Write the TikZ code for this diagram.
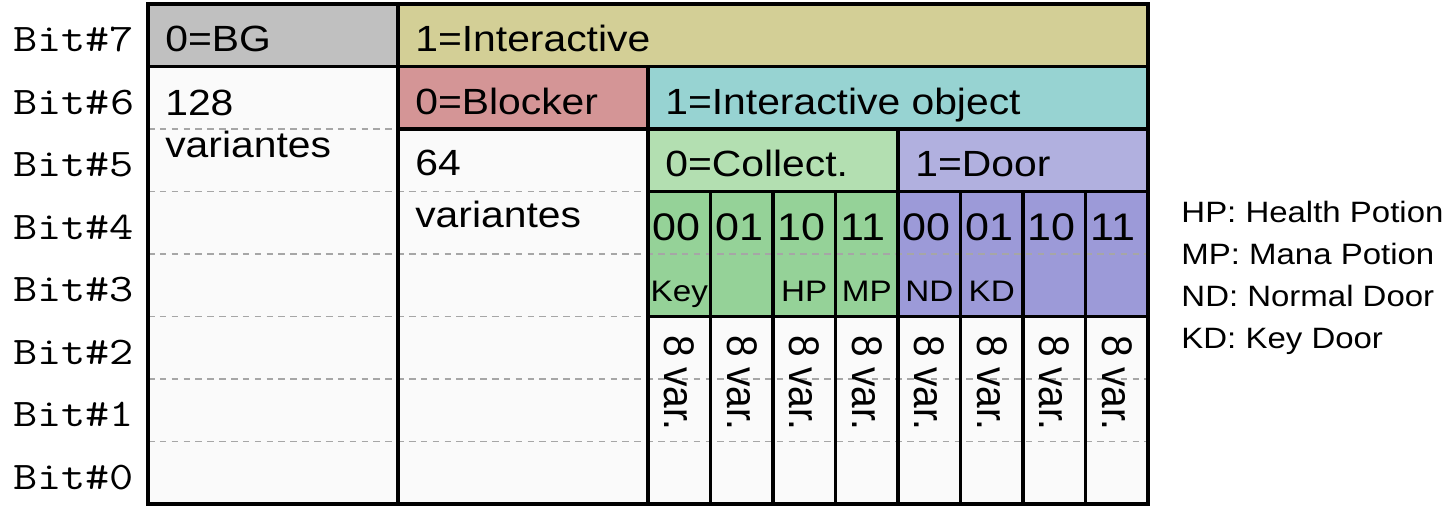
\documentclass[tikz,border=0pt]{standalone}
\usepackage{fontspec}
\usepackage{graphicx}
\setmainfont{Liberation Sans}[FakeStretch=1.12]
\newfontfamily\monof{Latin Modern Mono}[FakeStretch=1.2]
\newfontfamily\plainsans{Liberation Sans}
\definecolor{cwhite}{HTML}{FAFAFA}
\definecolor{cbg}{HTML}{C0C0C0}
\definecolor{cint}{HTML}{D3CF96}
\definecolor{cblock}{HTML}{D49596}
\definecolor{cobj}{HTML}{97D3D2}
\definecolor{ccoll}{HTML}{B3DFB1}
\definecolor{cdoor}{HTML}{B1B0DF}
\definecolor{cgreen}{HTML}{95D298}
\definecolor{cpurple}{HTML}{9C9AD8}
\begin{document}
\begin{tikzpicture}[x=1cm,y=1cm,
  cellbox/.style={line width=1.8pt, draw=black},
  rowline/.style={draw=gray!70, line width=0.75pt, dash pattern=on 3pt off 2.4pt},
  bitlabel/.style={anchor=base east, inner sep=0pt, font=\monof\fontsize{17.8}{20}\selectfont},
  head/.style={anchor=base west, inner sep=0pt, font=\fontsize{16.6}{20}\selectfont},
  code/.style={anchor=base west, inner sep=0pt, font=\fontsize{17.5}{20}\selectfont},
  tag/.style={anchor=base, inner sep=0pt, font=\fontsize{13.5}{16}\selectfont},
  legend/.style={anchor=base west, inner sep=0pt, font=\fontsize{13.4}{16}\selectfont},
  varlabel/.style={rotate=-90, anchor=west, inner sep=0pt, font=\plainsans\fontsize{17.7}{20}\selectfont},
]
\useasboundingbox (0,0) rectangle (23.248,8.16);
\begin{scope}[shift={(2.368,0.096)}]
% fills
\fill[cwhite] (0,0) rectangle (16,8);
\fill[cbg] (0,7) rectangle (4,8);
\fill[cint] (4,7) rectangle (16,8);
\fill[cblock] (4,6) rectangle (8,7);
\fill[cobj] (8,6) rectangle (16,7);
\fill[ccoll] (8,5) rectangle (12,6);
\fill[cdoor] (12,5) rectangle (16,6);
\fill[cgreen] (8,3) rectangle (12,5);
\fill[cpurple] (12,3) rectangle (16,5);
% dashed bit lines
\foreach \k in {1,...,6} \draw[rowline] (0,\k) -- (16,\k);
% borders
\draw[cellbox] (0,0) rectangle (16,8);
\draw[cellbox] (0,7) -- (16,7);
\draw[cellbox] (4,0) -- (4,8);
\draw[cellbox] (4,6) -- (16,6);
\draw[cellbox] (8,0) -- (8,7);
\draw[cellbox] (8,5) -- (16,5);
\draw[cellbox] (12,0) -- (12,6);
\draw[cellbox] (8,3) -- (16,3);
\foreach \c in {9,10,11,13,14,15} \draw[cellbox] (\c,0) -- (\c,5);
% bit labels
\foreach \k in {0,...,7} \node[bitlabel] (bit\k) at (-0.215,\k+0.24) {Bit\#\k};
% headers
\node[head] (bg) at (0.27,7.24) {0=BG};
\node[head] (inter) at (4.27,7.24) {1=Interactive};
\node[head] (blk) at (4.27,6.24) {0=Blocker};
\node[head] (iobj) at (8.27,6.24) {1=Interactive object};
\node[head] (coll) at (8.27,5.24) {0=Collect.};
\node[head] (door) at (12.27,5.24) {1=Door};
\node[head] (n128) at (0.27,6.224) {128};
\node[head] (varA) at (0.27,5.552) {variantes};
\node[head] (n64) at (4.27,5.264) {64};
\node[head] (varB) at (4.27,4.432) {variantes};
% codes
\foreach \c/\t [count=\i] in {8/00,9/01,10/10,11/11,12/00,13/01,14/10,15/11}
  \node[code] (code\i) at (\c+0.07,4.224) {\t};
% tags
\node[tag] (tkey) at (8.5,3.24) {Key};
\node[tag] (thp) at (10.5,3.24) {HP};
\node[tag] (tmp) at (11.5,3.24) {MP};
\node[tag] (tnd) at (12.5,3.24) {ND};
\node[tag] (tkd) at (13.5,3.24) {KD};
% 8 var.
\foreach \c [count=\i] in {8,...,15}
  \node[varlabel] (var\i) at (\c+0.5,2.71) {\scalebox{1}[1.1]{8 var.}};
% legend
\node[legend] (lhp) at (16.528,4.512) {HP: Health Potion};
\node[legend] (lmp) at (16.528,3.84) {MP: Mana Potion};
\node[legend] (lnd) at (16.528,3.168) {ND: Normal Door};
\node[legend] (lkd) at (16.528,2.496) {KD: Key Door};
\end{scope}
\end{tikzpicture}
\end{document}
